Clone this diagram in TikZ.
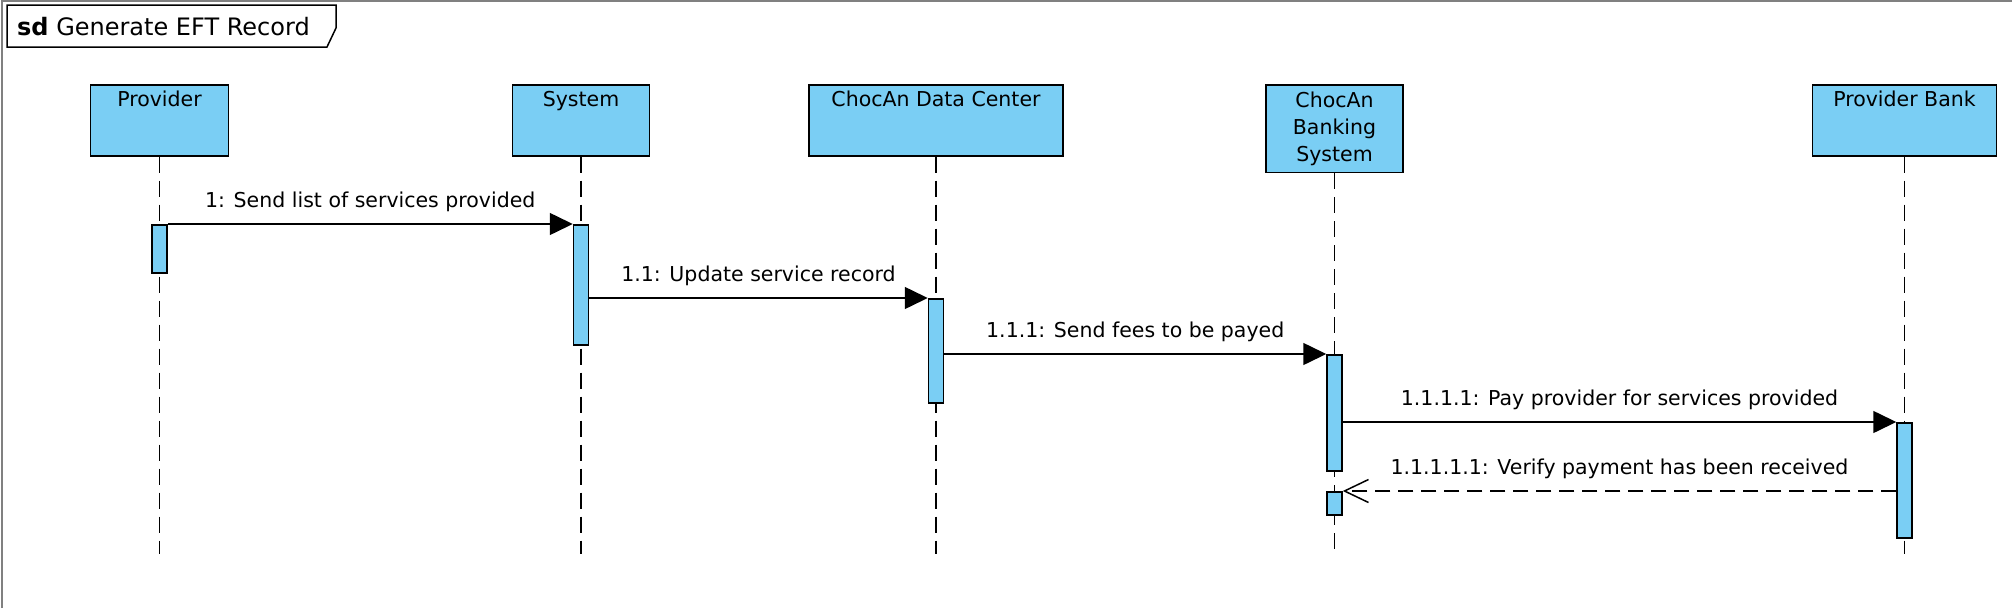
\documentclass[tikz,border=0pt]{standalone}
\usepackage{fontspec}
\setmainfont{DejaVu Sans}
\usetikzlibrary{arrows.meta,positioning}
\definecolor{lifeblue}{RGB}{122,206,244}
\definecolor{framegray}{RGB}{128,128,128}

\begin{document}
\begin{tikzpicture}[
  x=1pt,y=-1pt,
  head/.style ={rectangle,draw,line width=1.5pt,fill=lifeblue,anchor=north,align=center,
                font=\fontsize{20.5}{27}\selectfont,inner ysep=7pt,inner xsep=0pt},
  head1/.style={head,text height=15pt,text depth=42pt},
  act/.style  ={rectangle,draw,line width=1.5pt,fill=lifeblue,anchor=north,
                minimum width=15pt,inner sep=0pt},
  life/.style ={line width=1.8pt,dash pattern=on 16pt off 8pt},
  msg/.style  ={line width=1.5pt,-{Triangle[length=23pt,width=22pt]}},
  ret/.style  ={line width=1.5pt,dash pattern=on 15pt off 8pt,
                -{Straight Barb[length=24pt,width=23pt,line width=1.5pt]}},
  lbl/.style  ={font=\fontsize{20.5}{24}\selectfont,anchor=base,yshift=17pt,inner sep=0pt}
]
\useasboundingbox (0,0) rectangle (2012,608);

\draw[framegray,line width=2pt](2.3,608)--(2.3,1)--(2012,1);
\draw[line width=1.5pt](7,5)--(336,5)--(336,28)--(327,47)--(7,47)--cycle;
\node[font=\fontsize{24}{28}\selectfont,anchor=base west,inner sep=0pt](title) at (17,35)
  {\textbf{sd} Generate EFT Record};

\node[head1,minimum width=138pt](hP) at (159.5,84){Provider};
\node[head1,minimum width=137pt](hS) at (581,84){System};
\node[head1,minimum width=254pt](hD) at (936,84){ChocAn Data Center};
\node[head,minimum width=137pt,minimum height=83pt](hK) at (1334.5,84){ChocAn\\Banking\\System};
\node[head1,minimum width=184pt](hB) at (1904.5,84){Provider Bank};

\coordinate (bot) at (0,554);
\foreach \h in {hP,hS,hD,hK,hB}
  \draw[life](\h.south)--(\h.south |- bot);

\node[act,minimum height=48pt](aP) at (159.5,224){};
\node[act,minimum height=120pt](aS) at (581,224){};
\node[act,minimum height=104pt](aD) at (936,298){};
\node[act,minimum height=116pt](aK) at (1334.5,354){};
\node[act,minimum height=23pt](aK2) at (1334.5,491){};
\node[act,minimum height=115pt](aB) at (1904.5,422){};

\draw[msg](aP.north east)--node[lbl](l1){1: Send list of services provided}(aS.north west);
\draw[msg](aS.east |- aD.north)--node[lbl](l2){1.1: Update service record}(aD.north west);
\draw[msg](aD.east |- aK.north)--node[lbl](l3){1.1.1: Send fees to be payed}(aK.north west);
\draw[msg](aK.east |- aB.north)--node[lbl](l4){1.1.1.1: Pay provider for services provided}(aB.north west);
\draw[ret](aB.west |- aK2.north)--node[lbl](l5){1.1.1.1.1: Verify payment has been received}(aK2.north east);
\end{tikzpicture}
\end{document}
